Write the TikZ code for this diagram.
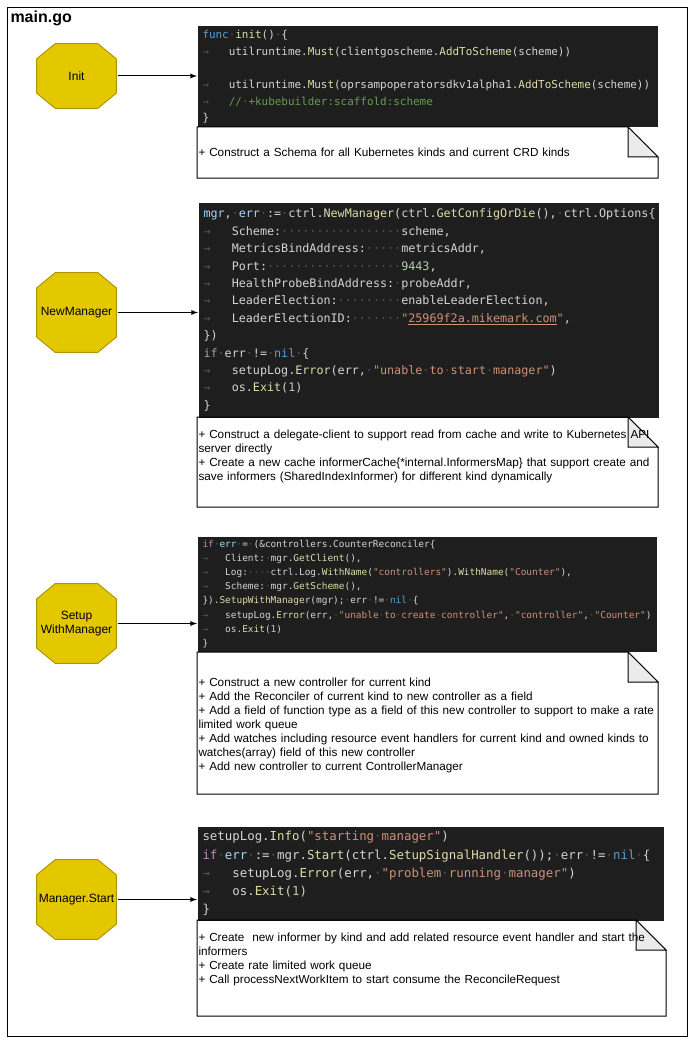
\documentclass[tikz,border=0pt]{standalone}
\usepackage{fontspec}
\setmainfont{Liberation Sans}
\setmonofont{DejaVu Sans Mono}

\definecolor{octfill}{HTML}{E3C800}
\definecolor{octdraw}{HTML}{B09500}
\definecolor{codebg}{HTML}{1E1E1E}
\definecolor{codefg}{HTML}{D4D4D4}
\definecolor{kwblue}{HTML}{569CD6}
\definecolor{fnyellow}{HTML}{DCDCAA}
\definecolor{strorange}{HTML}{CE9178}
\definecolor{numgreen}{HTML}{B5CEA8}
\definecolor{cmtgreen}{HTML}{6A9955}
\definecolor{varblue}{HTML}{9CDCFE}
\definecolor{ctlpurple}{HTML}{C586C0}
\definecolor{wsgray}{HTML}{555555}
\definecolor{foldgray}{HTML}{EBEBEB}

\newcommand\gkw[1]{\textcolor{kwblue}{#1}}
\newcommand\gfn[1]{\textcolor{fnyellow}{#1}}
\newcommand\gstr[1]{\textcolor{strorange}{#1}}
\newcommand\gnum[1]{\textcolor{numgreen}{#1}}
\newcommand\gcmt[1]{\textcolor{cmtgreen}{#1}}
\newcommand\gvar[1]{\textcolor{varblue}{#1}}
\newcommand\gctl[1]{\textcolor{ctlpurple}{#1}}
\newcommand\gws[1]{\textcolor{wsgray}{#1}}
\newcommand\gsp{\textcolor{wsgray}{·}}
\newcommand\gtab{\textcolor{wsgray}{→}\hphantom{xxx}}
\newcommand\codefont[2]{\ttfamily\fontsize{#1}{#2}\selectfont\hyphenpenalty=10000\exhyphenpenalty=10000}

\begin{document}
\begin{tikzpicture}[x=0.75pt, y=-0.75pt, line width=0.75pt,
octo/.style = { minimum width=60.75pt, minimum height=60.75pt, inner sep=0pt,
  align=center, font=\fontsize{9}{11}\selectfont,
  path picture = { \draw[octdraw, fill=octfill]
    ([xshift=14.5pt,yshift=-0.4pt]path picture bounding box.north west)
    -- ([xshift=-14.5pt,yshift=-0.4pt]path picture bounding box.north east)
    -- ([xshift=-0.4pt,yshift=-12pt]path picture bounding box.north east)
    -- ([xshift=-0.4pt,yshift=12pt]path picture bounding box.south east)
    -- ([xshift=-14.5pt,yshift=0.4pt]path picture bounding box.south east)
    -- ([xshift=14.5pt,yshift=0.4pt]path picture bounding box.south west)
    -- ([xshift=0.4pt,yshift=12pt]path picture bounding box.south west)
    -- ([xshift=0.4pt,yshift=-12pt]path picture bounding box.north west) -- cycle; } },
code/.style = { fill=codebg, text=codefg, anchor=north west, inner xsep=3.75pt, inner ysep=0pt, align=left },
note/.style = { anchor=north west, inner sep=0pt, minimum width=345pt },
notetext/.style = { anchor=west, inner xsep=0.75pt, align=left, text width=380pt, font=\fontsize{8.8}{10.5}\selectfont },
fold/.style = { fill=foldgray, draw=black },
link/.style = { -latex, draw=black }]
\useasboundingbox (0,0) rectangle (695,1045);
\draw (7,8) rectangle (687,1036);
\node[anchor=north west, inner sep=0pt, font=\bfseries\fontsize{12}{14}\selectfont] (title) at (10,10) {main.go};

\node[octo, minimum height=49.5pt] (init) at (76.5,76) {Init};
\node[octo] (newmgr) at (76.5,312.5) {NewManager};
\node[octo] (setup) at (76.5,623.5) {Setup\\WithManager};
\node[octo] (start) at (76.5,899.5) {Manager.Start};

\node[code, minimum width=345pt, minimum height=75.75pt, text width=337.5pt, font=\codefont{8.2}{12.5}] (code1) at (197,26) {%
\gkw{func}\gsp\gfn{init}()\gsp\{\\
\gtab utilruntime.\gfn{Must}(clientgoscheme.\gfn{AddToScheme}(scheme))\\
\mbox{}\\
\gtab utilruntime.\gfn{Must}(oprsampoperatorsdkv1alpha1.\gfn{AddToScheme}(scheme))\\
\gtab\gcmt{//\gsp+kubebuilder:scaffold:scheme}\\
\}};

\node[code, minimum width=345pt, minimum height=161.25pt, text width=337.5pt, font=\codefont{8.8}{13.05}] (code2) at (198,202) {%
\gvar{mgr},\gsp\gvar{err}\gsp:=\gsp ctrl.\gfn{NewManager}(ctrl.\gfn{GetConfigOrDie}(),\gsp ctrl.Options\{\\
\gtab Scheme:\gws{·················}scheme,\\
\gtab MetricsBindAddress:\gws{·····}metricsAddr,\\
\gtab Port:\gws{···················}\gnum{9443},\\
\gtab HealthProbeBindAddress:\gsp probeAddr,\\
\gtab LeaderElection:\gws{·········}enableLeaderElection,\\
\gtab LeaderElectionID:\gws{·······}\gstr{"\underline{25969f2a.mikemark.com}"},\\
\})\\
\gctl{if}\gsp err\gsp!=\gsp\gkw{nil}\gsp\{\\
\gtab setupLog.\gfn{Error}(err,\gsp\gstr{"unable\gsp to\gsp start\gsp manager"})\\
\gtab os.\gfn{Exit}(\gnum{1})\\
\}};

\node[code, minimum width=344.25pt, minimum height=86.25pt, text width=336.75pt, font=\codefont{7.08}{10.6}] (code3) at (197,536) {%
\gctl{if}\gsp\gvar{err}\gsp=\gsp(\&controllers.CounterReconciler\{\\
\gtab Client:\gsp mgr.\gfn{GetClient}(),\\
\gtab Log:\gws{····}ctrl.Log.\gfn{WithName}(\gstr{"controllers"}).\gfn{WithName}(\gstr{"Counter"}),\\
\gtab Scheme:\gsp mgr.\gfn{GetScheme}(),\\
\}).\gfn{SetupWithManager}(mgr);\gsp err\gsp!=\gsp\gkw{nil}\gsp\{\\
\gtab setupLog.\gfn{Error}(err,\gsp\gstr{"unable\gsp to\gsp create\gsp controller"},\gsp\gstr{"controller"},\gsp\gstr{"Counter"})\\
\gtab os.\gfn{Exit}(\gnum{1})\\
\}};

\node[code, minimum width=349.5pt, minimum height=70.5pt, text width=342pt, font=\codefont{9.3}{13.65}] (code4) at (197,826) {%
setupLog.\gfn{Info}(\gstr{"starting\gsp manager"})\\
\gctl{if}\gsp\gvar{err}\gsp:=\gsp mgr.\gfn{Start}(ctrl.\gfn{SetupSignalHandler}());\gsp err\gsp!=\gsp\gkw{nil}\gsp\{\\
\gtab setupLog.\gfn{Error}(err,\gsp\gstr{"problem\gsp running\gsp manager"})\\
\gtab os.\gfn{Exit}(\gnum{1})\\
\}};

\node[note, minimum height=37.5pt] (note1) at (197,127) {};
\node[note, minimum height=66.75pt] (note2) at (197,417) {};
\node[note, minimum height=105.75pt] (note3) at (197,652) {};
\node[note, minimum width=351pt, minimum height=71.25pt] (note4) at (197,920) {};
\foreach \n in {note1,note2,note3,note4} {
  \draw (\n.north west) -- ([xshift=-22.5pt]\n.north east) -- ([yshift=-22.5pt]\n.north east)
    -- (\n.south east) -- (\n.south west) -- cycle;
  \draw[fold] ([xshift=-22.5pt]\n.north east) -- ([xshift=-22.5pt,yshift=-22.5pt]\n.north east)
    -- ([yshift=-22.5pt]\n.north east) -- cycle;
}

\node[notetext] (note1txt) at (note1.west) {+ Construct a Schema for all Kubernetes kinds and current CRD kinds};
\node[notetext, yshift=4.5pt] (note2txt) at (note2.west) {+ Construct a delegate-client to support read from cache and write to Kubernetes API\\
server directly\\
+ Create a new cache informerCache\{*internal.InformersMap\} that support create and\\
save informers (SharedIndexInformer) for different kind dynamically};
\node[notetext, yshift=-1.5pt] (note3txt) at (note3.west) {+ Construct a new controller for current kind\\
+ Add the Reconciler of current kind to new controller as a field\\
+ Add a field of function type as a field of this new controller to support to make a rate\\
limited work queue\\
+ Add watches including resource event handlers for current kind and owned kinds to\\
watches(array) field of this new controller\\
+ Add new controller to current ControllerManager};
\node[notetext, yshift=6.75pt] (note4txt) at (note4.west) {+ Create\ \ new informer by kind and add related resource event handler and start the\\
informers\\
+ Create rate limited work queue\\
+ Call processNextWorkItem to start consume the ReconcileRequest};

\draw[link] (init) -- (init -| code1.west);
\draw[link] (newmgr) -- (newmgr -| code2.west);
\draw[link] (setup) -- (setup -| code3.west);
\draw[link] (start) -- (start -| code4.west);
\end{tikzpicture}
\end{document}
